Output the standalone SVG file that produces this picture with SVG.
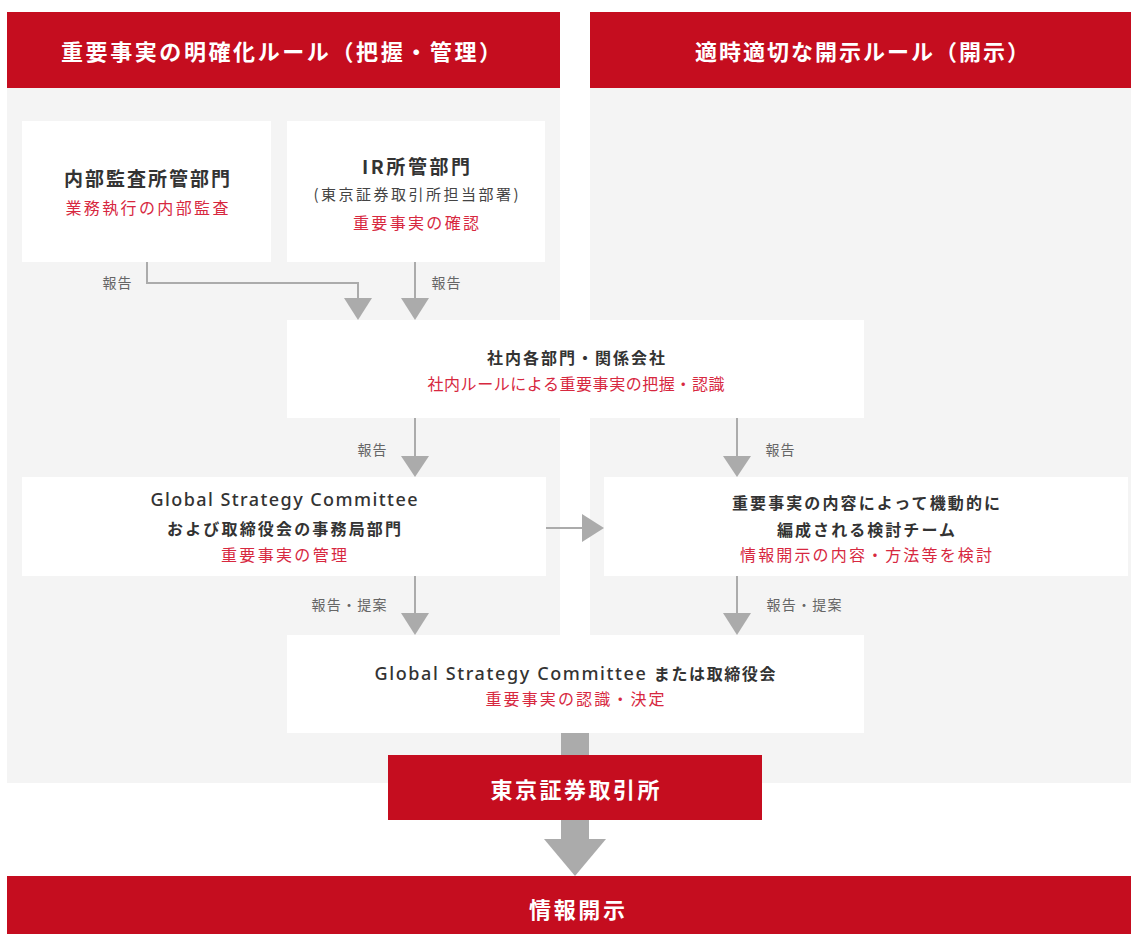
<svg xmlns="http://www.w3.org/2000/svg" width="1131" height="934" viewBox="0 0 1131 934">
<style>
text{font-family:"Noto Sans CJK JP","Noto Sans",sans-serif;text-anchor:middle;dominant-baseline:central}
.h{fill:#fff;font-size:22px;font-weight:bold}
.t{fill:#333;font-size:19px;font-weight:bold}
.s{fill:#333;font-size:16px;font-weight:bold}
.lat{font-family:"Noto Sans","Liberation Sans",sans-serif;font-size:18px;font-weight:500}
.r{fill:#D7283F;font-size:16px}
.g{fill:#444;font-size:15px}
.l{fill:#666;font-size:14px}
.box{fill:#fff}
.red{fill:#C50D1F}
.ln{stroke:#ABABAB;stroke-width:2;fill:none}
.ah{fill:#ABABAB}
</style>
<rect x="0" y="0" width="1131" height="934" fill="#fff"/>
<g id="background">
<rect x="7" y="88" width="1124" height="695" fill="#F4F4F4"/>
<rect x="560" y="12" width="30" height="623" fill="#fff"/>
</g>
<g id="header-left">
<rect class="red" x="7" y="12" width="553" height="76"/>
<text class="h" x="281" y="50" textLength="440" lengthAdjust="spacing">重要事実の明確化ルール（把握・管理）</text>
</g>
<g id="header-right">
<rect class="red" x="590" y="12" width="541" height="76"/>
<text class="h" x="862" y="50" textLength="334" lengthAdjust="spacing">適時適切な開示ルール（開示）</text>
</g>
<g id="connectors">
<polyline class="ln" points="147,262 147,283 358,283 358,300"/>
<polygon class="ah" points="344,298 372,298 358,320"/>
<line class="ln" x1="415" y1="262" x2="415" y2="300"/>
<polygon class="ah" points="401,298 429,298 415,320"/>
<text class="l" x="117" y="282" textLength="29">報告</text>
<text class="l" x="446" y="282" textLength="29">報告</text>
<line class="ln" x1="415" y1="418" x2="415" y2="458"/>
<polygon class="ah" points="401,456 429,456 415,477"/>
<text class="l" x="372" y="449" textLength="29">報告</text>
<line class="ln" x1="737" y1="418" x2="737" y2="458"/>
<polygon class="ah" points="723,456 751,456 737,477"/>
<text class="l" x="780" y="449" textLength="29">報告</text>
<line class="ln" x1="546" y1="528" x2="584" y2="528"/>
<polygon class="ah" points="582,514 582,542 604,528"/>
<line class="ln" x1="415" y1="576" x2="415" y2="615"/>
<polygon class="ah" points="401,613 429,613 415,635"/>
<text class="l" x="349" y="604" textLength="75">報告・提案</text>
<line class="ln" x1="737" y1="576" x2="737" y2="615"/>
<polygon class="ah" points="723,613 751,613 737,635"/>
<text class="l" x="804" y="604" textLength="75">報告・提案</text>
<rect class="ah" x="561" y="733" width="28" height="24"/>
<rect class="ah" x="561" y="818" width="28" height="22"/>
<polygon class="ah" points="544,839 606,839 575,876"/>
</g>
<g id="node-audit">
<rect class="box" x="22" y="121" width="249" height="141"/>
<text class="t" x="147" y="177" textLength="166">内部監査所管部門</text>
<text class="r" x="147" y="207" textLength="163">業務執行の内部監査</text>
</g>
<g id="node-ir">
<rect class="box" x="287" y="121" width="258" height="141"/>
<text class="t" x="416" y="165" textLength="108">IR所管部門</text>
<text class="g" x="416" y="193" textLength="205">(東京証券取引所担当部署)</text>
<text class="r" x="416" y="222" textLength="126">重要事実の確認</text>
</g>
<g id="node-depts">
<rect class="box" x="287" y="320" width="577" height="98"/>
<text class="s" x="576" y="357" textLength="178">社内各部門・関係会社</text>
<text class="r" x="576" y="383" textLength="297">社内ルールによる重要事実の把握・認識</text>
</g>
<g id="node-secretariat">
<rect class="box" x="22" y="477" width="524" height="99"/>
<text class="s lat" x="284" y="499" textLength="267">Global Strategy Committee</text>
<text class="s" x="284" y="528" textLength="234">および取締役会の事務局部門</text>
<text class="r" x="284" y="554" textLength="126">重要事実の管理</text>
</g>
<g id="node-team">
<rect class="box" x="604" y="477" width="524" height="99"/>
<text class="s" x="866" y="502" textLength="268">重要事実の内容によって機動的に</text>
<text class="s" x="866" y="529" textLength="178">編成される検討チーム</text>
<text class="r" x="866" y="554" textLength="252">情報開示の内容・方法等を検討</text>
</g>
<g id="node-board">
<rect class="box" x="287" y="635" width="577" height="98"/>
<text class="s" x="575" y="673" textLength="401"><tspan class="lat">Global Strategy Committee </tspan>または取締役会</text>
<text class="r" x="575" y="698" textLength="179">重要事実の認識・決定</text>
</g>
<g id="node-tse">
<rect class="red" x="388" y="755" width="374" height="65"/>
<text class="h" x="575" y="788" textLength="169">東京証券取引所</text>
</g>
<g id="node-disclosure">
<rect class="red" x="7" y="876" width="1124" height="58"/>
<text class="h" x="577" y="908" textLength="96">情報開示</text>
</g>
</svg>
